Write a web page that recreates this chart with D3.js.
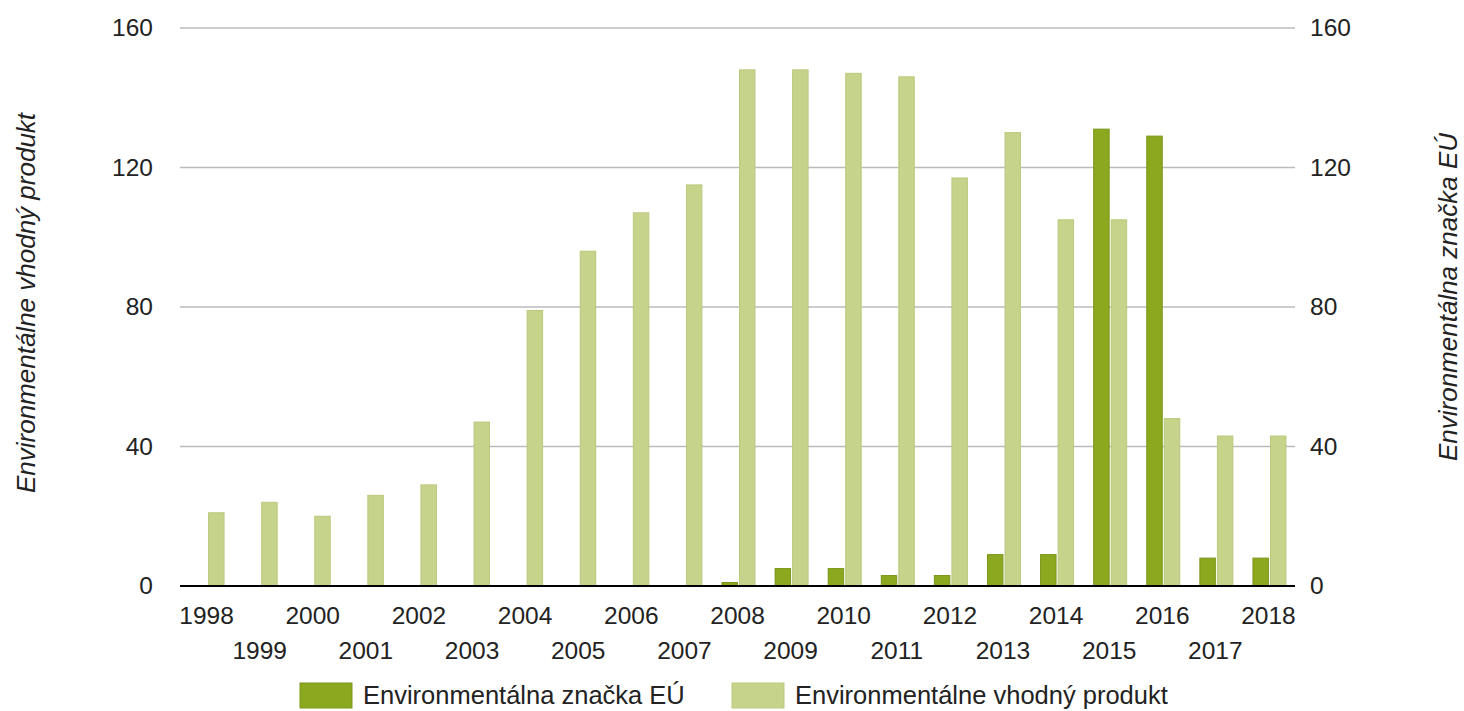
<!DOCTYPE html>
<html>
<head>
<meta charset="utf-8">
<script src="https://cdn.jsdelivr.net/npm/d3@7"></script>
<style>
  body { margin: 0; background: #fff; }
  svg { font-family: "Liberation Sans", Arial, sans-serif; }
</style>
</head>
<body>
<svg width="1464" height="711"></svg>
<script>
const years = ["1998","1999","2000","2001","2002","2003","2004","2005","2006","2007","2008","2009","2010","2011","2012","2013","2014","2015","2016","2017","2018"];
const euLabel = [0,0,0,0,0,0,0,0,0,0,1,5,5,3,3,9,9,131,129,8,8];
const envProduct = [21,24,20,26,29,47,79,96,107,115,148,148,147,146,117,130,105,105,48,43,43];
const yTicks = [0,40,80,120,160];
const seriesNames = ["Environmentálna značka EÚ", "Environmentálne vhodný produkt"];

const svg = d3.select('svg');
const margin = { top: 28, right: 169, bottom: 125, left: 180 };
const width = +svg.attr('width');
const height = +svg.attr('height');
const textColor = "#222";

const x = d3.scaleBand()
    .domain(years)
    .range([margin.left, width - margin.right]);

const xInner = d3.scaleBand()
    .domain(["eu", "env"])
    .range([-16, 18])
    .paddingInner(0.06);

const y = d3.scaleLinear()
    .domain([0, 160])
    .range([height - margin.bottom, margin.top]);

const colors = { eu: "#8ba81f", env: "#c6d38b" };
const strokes = { eu: "#7a961a", env: "#b9c97c" };

// grid
svg.append("g")
    .selectAll("line")
    .data(yTicks.filter(d => d > 0))
    .join("line")
      .attr("x1", margin.left)
      .attr("x2", width - margin.right)
      .attr("y1", d => y(d))
      .attr("y2", d => y(d))
      .attr("stroke", "#bbbbbb")
      .attr("stroke-width", 1.3);

const rows = years.map((yr, i) => ({ year: yr, eu: euLabel[i], env: envProduct[i] }));

const groups = svg.append("g")
    .selectAll("g")
    .data(rows)
    .join("g")
      .attr("transform", d => `translate(${x(d.year) + x.bandwidth() / 2},0)`);

groups.selectAll("rect")
    .data(d => ["eu", "env"].filter(k => d[k] > 0).map(k => ({ key: k, value: d[k] })))
    .join("rect")
      .attr("x", d => xInner(d.key) + 0.5)
      .attr("y", d => y(d.value))
      .attr("width", xInner.bandwidth() - 1)
      .attr("height", d => y(0) - y(d.value))
      .attr("fill", d => colors[d.key])
      .attr("stroke", d => strokes[d.key])
      .attr("stroke-width", 1);

// baseline
svg.append("line")
    .attr("x1", margin.left)
    .attr("x2", width - margin.right)
    .attr("y1", y(0))
    .attr("y2", y(0))
    .attr("stroke", "#000")
    .attr("stroke-width", 2);

// y axes
const leftAxis = svg.append("g")
    .attr("transform", `translate(${margin.left},0)`)
    .call(d3.axisLeft(y).tickValues(yTicks).tickSize(0).tickPadding(27));
const rightAxis = svg.append("g")
    .attr("transform", `translate(${width - margin.right},0)`)
    .call(d3.axisRight(y).tickValues(yTicks).tickSize(0).tickPadding(15));
[leftAxis, rightAxis].forEach(g => {
    g.select(".domain").remove();
    g.selectAll("text").attr("font-size", 24.5).attr("fill", textColor).attr("font-family", "Liberation Sans, Arial, sans-serif");
});

// x axis labels, alternating rows
const xAxis = svg.append("g")
    .attr("transform", `translate(0,${y(0)})`)
    .call(d3.axisBottom(x).tickSize(0).tickPadding(0));
xAxis.select(".domain").remove();
xAxis.selectAll("text")
    .attr("font-size", 24.5)
    .attr("fill", textColor)
    .attr("font-family", "Liberation Sans, Arial, sans-serif")
    .attr("dy", null)
    .attr("y", (d, i) => i % 2 === 0 ? 38 : 73);

// axis titles
svg.append("text")
    .attr("transform", `translate(35,303) rotate(-90)`)
    .attr("text-anchor", "middle")
    .attr("font-size", 26)
    .attr("font-style", "italic")
    .attr("fill", textColor)
    .text("Environmentálne vhodný produkt");
svg.append("text")
    .attr("transform", `translate(1457,297) rotate(-90)`)
    .attr("text-anchor", "middle")
    .attr("font-size", 26)
    .attr("font-style", "italic")
    .attr("fill", textColor)
    .text("Environmentálna značka EÚ");

// legend
const legend = svg.append("g").attr("transform", "translate(300,683)");
const legendItems = [
    { key: "eu", name: seriesNames[0], x: 0 },
    { key: "env", name: seriesNames[1], x: 432 }
];
const li = legend.selectAll("g")
    .data(legendItems)
    .join("g")
      .attr("transform", d => `translate(${d.x},0)`);
li.append("rect")
    .attr("width", 52)
    .attr("height", 25)
    .attr("fill", d => colors[d.key])
    .attr("stroke", d => strokes[d.key]);
li.append("text")
    .attr("x", 63)
    .attr("y", 21)
    .attr("font-size", 25.5)
    .attr("fill", textColor)
    .text(d => d.name);
</script>
</body>
</html>
